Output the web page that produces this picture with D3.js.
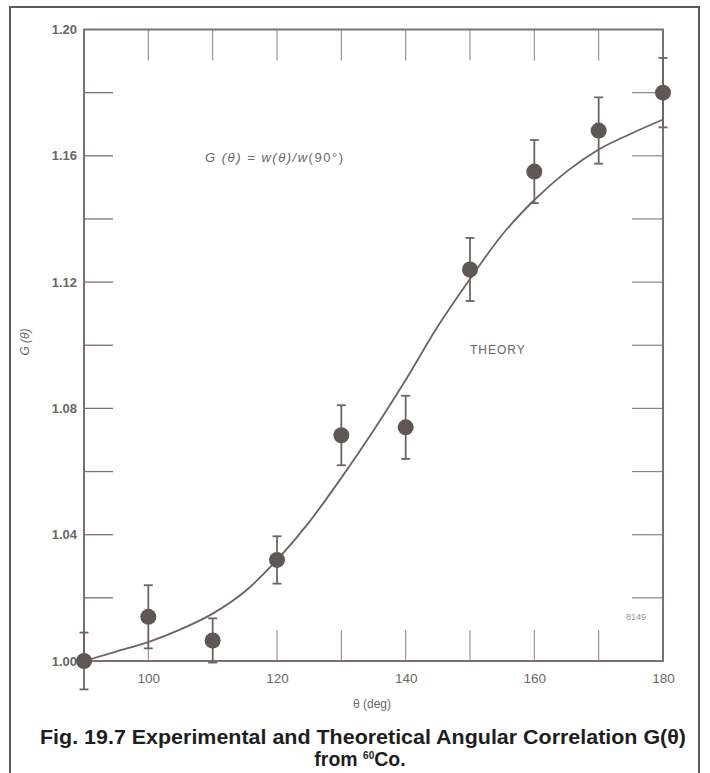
<!DOCTYPE html>
<html>
<head>
<meta charset="utf-8">
<script src="https://cdn.jsdelivr.net/npm/d3@7"></script>
<style>
  html, body { margin: 0; padding: 0; background: #ffffff; }
  svg { display: block; }
</style>
</head>
<body>
<svg id="chart" width="710" height="773"></svg>
<script>
// ---- data ----
const angles     = [90, 100, 110, 120, 130, 140, 150, 160, 170, 180];
const measured   = [1.000, 1.014, 1.0065, 1.032, 1.0715, 1.074, 1.124, 1.155, 1.168, 1.180];
const errors     = [0.009, 0.010, 0.007, 0.0075, 0.0095, 0.010, 0.010, 0.010, 0.0105, 0.011];
const theoryAngles = [90, 95, 100, 105, 110, 115, 120, 125, 130, 135, 140, 145, 150, 155, 160, 165, 170, 175, 180];
const theoryValues = [1.000, 1.003, 1.006, 1.010, 1.015, 1.022, 1.032, 1.044, 1.058, 1.073, 1.089, 1.106, 1.121, 1.135, 1.146, 1.155, 1.162, 1.167, 1.1715];
const xLabelTicks = [100, 120, 140, 160, 180];
const xMinorTicks = [100, 110, 120, 130, 140, 150, 160, 170];
const yLabelTicks = [1.00, 1.04, 1.08, 1.12, 1.16, 1.20];
const yMinorTicks = [1.02, 1.04, 1.06, 1.08, 1.10, 1.12, 1.14, 1.16, 1.18];

(function () {
const svg = d3.select("#chart");
const axisColor = "#7b706d";
const markColor = "#5f5656";
const textColor = "#6a6666";

// outer frame
svg.append("rect")
  .attr("x", 10).attr("y", 7).attr("width", 689).attr("height", 780)
  .attr("fill", "none").attr("stroke", "#5a5a5a").attr("stroke-width", 2);

const pL = 84, pR = 663, pT = 29.5, pB = 661;
const x = d3.scaleLinear().domain([90, 180]).range([pL, pR]);
const y = d3.scaleLinear().domain([1.0, 1.2]).range([pB, pT]);

const g = svg.append("g");

// inner ticks
g.selectAll(".tl").data(yMinorTicks).enter().append("line")
  .attr("x1", pL).attr("x2", pL + 29)
  .attr("y1", d => y(d)).attr("y2", d => y(d))
  .attr("stroke", axisColor).attr("stroke-width", 1.3);
g.selectAll(".tr").data(yMinorTicks).enter().append("line")
  .attr("x1", pR).attr("x2", pR - 31)
  .attr("y1", d => y(d)).attr("y2", d => y(d))
  .attr("stroke", axisColor).attr("stroke-width", 1.2).attr("opacity", 0.85);
g.selectAll(".tt").data(xMinorTicks).enter().append("line")
  .attr("x1", d => x(d)).attr("x2", d => x(d))
  .attr("y1", pT).attr("y2", pT + 31)
  .attr("stroke", axisColor).attr("stroke-width", 1.1).attr("opacity", 0.8);
g.selectAll(".tb").data(xMinorTicks).enter().append("line")
  .attr("x1", d => x(d)).attr("x2", d => x(d))
  .attr("y1", pB).attr("y2", pB - 31)
  .attr("stroke", axisColor).attr("stroke-width", 1.1).attr("opacity", 0.8);

// frame of plot
g.append("rect")
  .attr("x", pL).attr("y", pT).attr("width", pR - pL).attr("height", pB - pT)
  .attr("fill", "none").attr("stroke", axisColor).attr("stroke-width", 2);

// axes labels via d3 axes
const yAxis = d3.axisLeft(y).tickValues(yLabelTicks).tickFormat(d3.format(".2f")).tickSize(0).tickPadding(7);
const ya = g.append("g").attr("transform", `translate(${pL},0)`).call(yAxis);
ya.select(".domain").remove();
ya.selectAll("text").attr("font-family", "Liberation Sans, Arial, sans-serif")
  .attr("font-size", 13).attr("font-weight", "bold").attr("fill", textColor);

const xAxis = d3.axisBottom(x).tickValues(xLabelTicks).tickFormat(d3.format("d")).tickSize(0).tickPadding(12);
const xa = g.append("g").attr("transform", `translate(0,${pB})`).call(xAxis);
xa.select(".domain").remove();
xa.selectAll("text").attr("font-family", "Liberation Sans, Arial, sans-serif")
  .attr("font-size", 13.5).attr("fill", textColor);

// theory curve
const line = d3.line().x(d => x(d[0])).y(d => y(d[1])).curve(d3.curveMonotoneX);
g.append("path")
  .datum(theoryAngles.map((a, i) => [a, theoryValues[i]]))
  .attr("d", line).attr("fill", "none")
  .attr("stroke", "#6d6260").attr("stroke-width", 1.8);

// error bars
const pts = angles.map((a, i) => ({a, v: measured[i], e: errors[i]}));
const eb = g.selectAll(".eb").data(pts).enter().append("g");
eb.append("line")
  .attr("x1", d => x(d.a)).attr("x2", d => x(d.a))
  .attr("y1", d => y(d.v - d.e)).attr("y2", d => y(d.v + d.e))
  .attr("stroke", "#6e6563").attr("stroke-width", 1.8);
eb.append("line")
  .attr("x1", d => x(d.a) - 4.5).attr("x2", d => x(d.a) + 4.5)
  .attr("y1", d => y(d.v + d.e)).attr("y2", d => y(d.v + d.e))
  .attr("stroke", "#6e6563").attr("stroke-width", 1.8);
eb.append("line")
  .attr("x1", d => x(d.a) - 4.5).attr("x2", d => x(d.a) + 4.5)
  .attr("y1", d => y(d.v - d.e)).attr("y2", d => y(d.v - d.e))
  .attr("stroke", "#6e6563").attr("stroke-width", 1.8);

// points
g.selectAll(".pt").data(pts).enter().append("circle")
  .attr("cx", d => x(d.a)).attr("cy", d => y(d.v)).attr("r", 8)
  .attr("fill", markColor);

// annotations
const ann = svg.append("g").attr("font-family", "Liberation Sans, Arial, sans-serif").attr("fill", textColor);
const f = ann.append("text").attr("x", 205).attr("y", 162).attr("font-size", 13)
  .attr("textLength", 138).attr("lengthAdjust", "spacing");
f.append("tspan").attr("font-style", "italic").text("G (θ) = w(θ)/w");
f.append("tspan").text("(90°)");
ann.append("text").attr("x", 470).attr("y", 354).attr("font-size", 12)
  .attr("letter-spacing", 1).text("THEORY");
ann.append("text").attr("x", 626).attr("y", 620).attr("font-size", 9)
  .attr("fill", "#999").text("8149");
ann.append("text").attr("x", 372).attr("y", 708).attr("font-size", 12)
  .attr("text-anchor", "middle").text("θ (deg)");
ann.append("text").attr("transform", "translate(29,342) rotate(-90)")
  .attr("font-size", 12).attr("font-style", "italic").attr("text-anchor", "middle").text("G (θ)");

// caption
const cap = svg.append("g").attr("font-family", "Liberation Sans, Arial, sans-serif")
  .attr("font-weight", "bold").attr("fill", "#1e1e1e");
cap.append("text").attr("x", 40).attr("y", 744).attr("font-size", 19.5)
  .attr("textLength", 646).attr("lengthAdjust", "spacingAndGlyphs")
  .text("Fig. 19.7  Experimental and Theoretical Angular Correlation G(θ)");
const l2 = cap.append("text").attr("x", 360).attr("y", 766).attr("font-size", 19.5)
  .attr("text-anchor", "middle");
l2.append("tspan").text("from ");
l2.append("tspan").attr("font-size", 10).attr("dy", -7).text("60");
l2.append("tspan").attr("dy", 7).text("Co.");
})();
</script>
</body>
</html>
